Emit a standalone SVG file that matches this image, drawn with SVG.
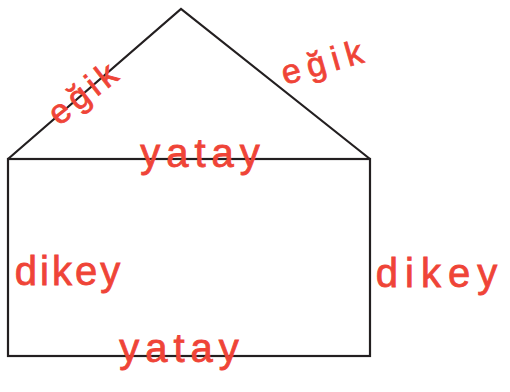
<svg xmlns="http://www.w3.org/2000/svg" width="510" height="392" viewBox="0 0 510 392">
<style>
.edge{fill:none;stroke:#231f20;stroke-width:2.2;stroke-linejoin:miter}
.lbl{font-family:"Liberation Sans","DejaVu Sans",sans-serif;fill:#ef4437;stroke:#ef4437;stroke-width:0.8;text-anchor:middle}
</style>
<rect width="510" height="392" fill="#fff"/>
<g id="connectors">
<polyline class="edge" points="8,159 181,9 370,159"/>
<rect class="edge" x="8" y="159" width="362" height="197"/>
</g>
<g id="label-egik-left"><text class="lbl" transform="translate(86,94) rotate(-38)" y="9" font-size="34" letter-spacing="5">eğik</text></g>
<g id="label-egik-right"><text class="lbl" transform="translate(326,64) rotate(-16)" y="9" font-size="34" letter-spacing="7">eğik</text></g>
<g id="label-yatay-top"><text class="lbl" x="203" y="167" font-size="40" letter-spacing="6">yatay</text></g>
<g id="label-dikey-left"><text class="lbl" x="69" y="285" font-size="40" letter-spacing="3">dikey</text></g>
<g id="label-dikey-right"><text class="lbl" x="440" y="287" font-size="40" letter-spacing="7">dikey</text></g>
<g id="label-yatay-bottom"><text class="lbl" x="182" y="362" font-size="40" letter-spacing="6">yatay</text></g>
</svg>
